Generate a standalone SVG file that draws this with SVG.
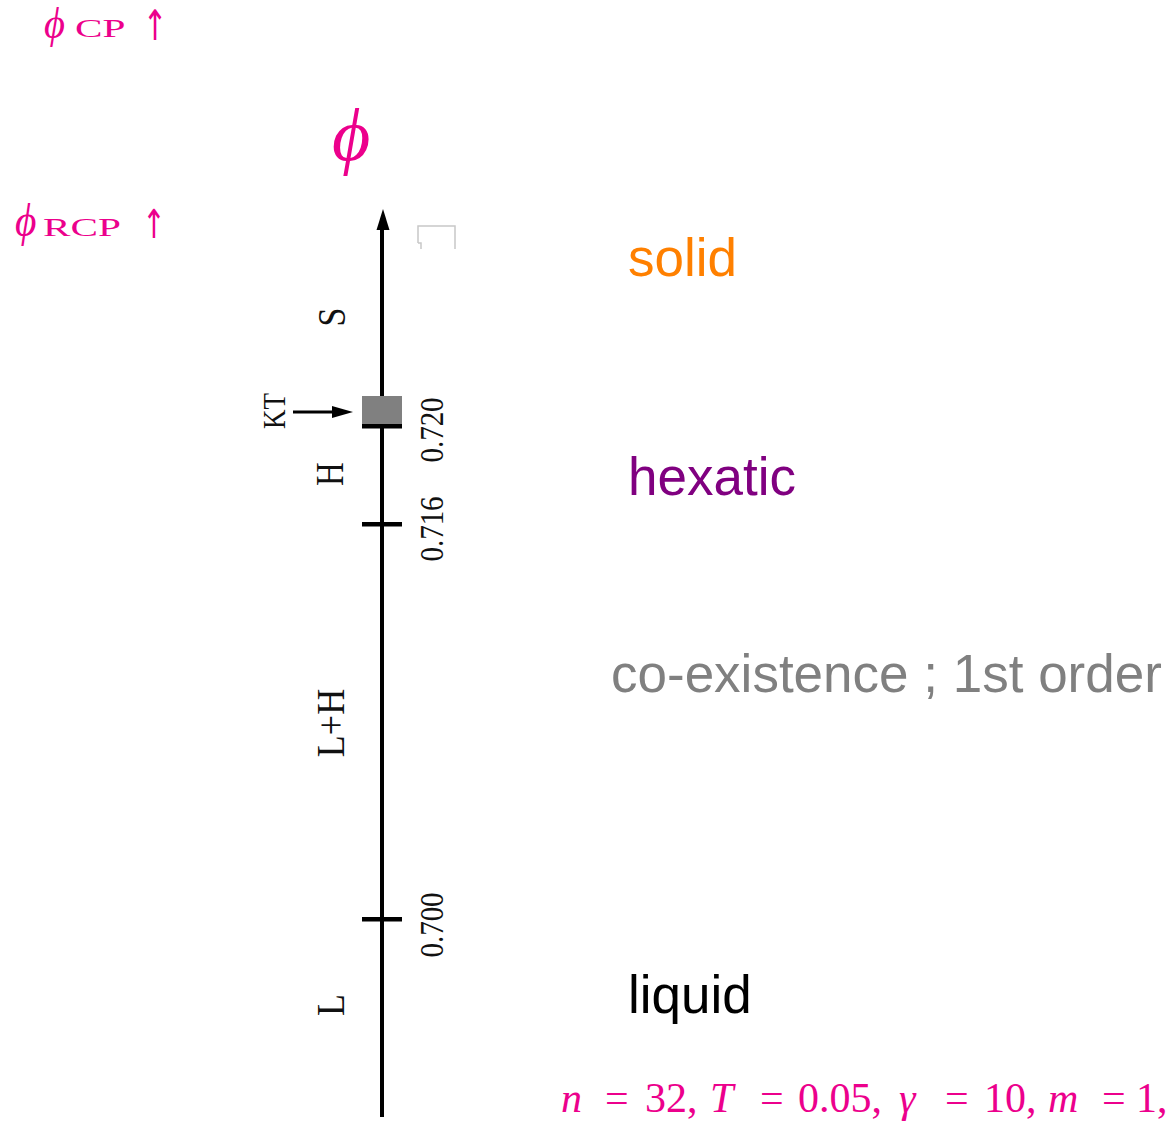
<svg xmlns="http://www.w3.org/2000/svg" width="1171" height="1122" viewBox="0 0 1171 1122">
<style>
.mag{fill:#EC008C;font-family:"Liberation Serif","DejaVu Serif",serif}
.it{font-style:italic}
.arr{fill:#EC008C;font-family:"DejaVu Sans",sans-serif;text-anchor:middle}
.lab{font-family:"Liberation Serif","DejaVu Serif",serif;fill:#111;text-anchor:middle}
.big{font-family:"Liberation Sans",Arial,sans-serif;font-size:53px}
</style>
<rect width="1171" height="1122" fill="#fff"/>
<g id="connectors">
<line x1="382" y1="226" x2="382" y2="1117" stroke="#000" stroke-width="4"/>
<polygon points="383,209 389.5,230 376.5,230" fill="#000"/>
<line x1="293" y1="412" x2="336" y2="412" stroke="#000" stroke-width="3"/>
<polygon points="353,412 332,406 332,418" fill="#000"/>
</g>
<g id="kt-box">
<rect x="362" y="396" width="40" height="28" fill="#808080"/>
<rect x="362" y="424" width="40" height="4.5" fill="#000"/>
</g>
<g id="tick-716"><rect x="362" y="522" width="40" height="4.5" fill="#000"/></g>
<g id="tick-700"><rect x="362" y="917" width="40" height="4.5" fill="#000"/></g>
<g id="axis-labels">
<text class="lab" font-size="34" transform="translate(345,317) rotate(-90) scale(1,1.15)">S</text>
<text class="lab" font-size="33" transform="translate(343,474) rotate(-90) scale(1,1.2)">H</text>
<text class="lab" font-size="36" transform="translate(344,723) rotate(-90) scale(1,1.1)">L+H</text>
<text class="lab" font-size="36" transform="translate(344,1005) rotate(-90) scale(1,1.1)">L</text>
<text class="lab" font-size="27" transform="translate(285,411) rotate(-90) scale(1,1.2)">KT</text>
<text class="lab" font-size="29" transform="translate(443,430) rotate(-90) scale(1,1.17)">0.720</text>
<text class="lab" font-size="29" transform="translate(443,529) rotate(-90) scale(1,1.17)">0.716</text>
<text class="lab" font-size="29" transform="translate(443,925) rotate(-90) scale(1,1.17)">0.700</text>
</g>
<g id="marker-box">
<path d="M418,243 L418,226 L455,226 L455,249 M418,243 L421,243 L421,249" fill="none" stroke="#c8c8c8" stroke-width="1.5"/>
</g>
<g id="phi-axis-label">
<text class="mag it" x="332" y="160" font-size="74">ϕ</text>
</g>
<g id="phi-cp">
<text class="mag it" transform="translate(44,38) scale(0.9,1)" font-size="45">ϕ</text>
<text class="mag" transform="translate(75,37) scale(1.65,1)" font-size="25">CP</text>
<text class="arr" transform="translate(155,40) scale(0.7,1)" font-size="42">↑</text>
</g>
<g id="phi-rcp">
<text class="mag it" transform="translate(15,236) scale(0.9,1)" font-size="46">ϕ</text>
<text class="mag" transform="translate(43,236) scale(1.65,1)" font-size="25">RCP</text>
<text class="arr" transform="translate(154,238) scale(0.7,1)" font-size="40">↑</text>
</g>
<g id="phase-solid"><text class="big" x="628" y="276" fill="#FF8000">solid</text></g>
<g id="phase-hexatic"><text class="big" x="628" y="495" fill="#800080">hexatic</text></g>
<g id="phase-coexist"><text class="big" x="611" y="692" fill="#808080">co-existence ; 1st order</text></g>
<g id="phase-liquid"><text class="big" x="628" y="1013" fill="#000">liquid</text></g>
<g id="params">
<text class="mag" y="1112" font-size="42"><tspan class="it" x="561">n</tspan><tspan x="605">=</tspan><tspan x="645">32,</tspan><tspan class="it" x="710">T</tspan><tspan x="760">=</tspan><tspan x="798">0.05,</tspan><tspan class="it" x="899">γ</tspan><tspan x="945">=</tspan><tspan x="984">10,</tspan><tspan class="it" x="1048">m</tspan><tspan x="1102">=</tspan><tspan x="1136">1,</tspan></text>
</g>
</svg>
